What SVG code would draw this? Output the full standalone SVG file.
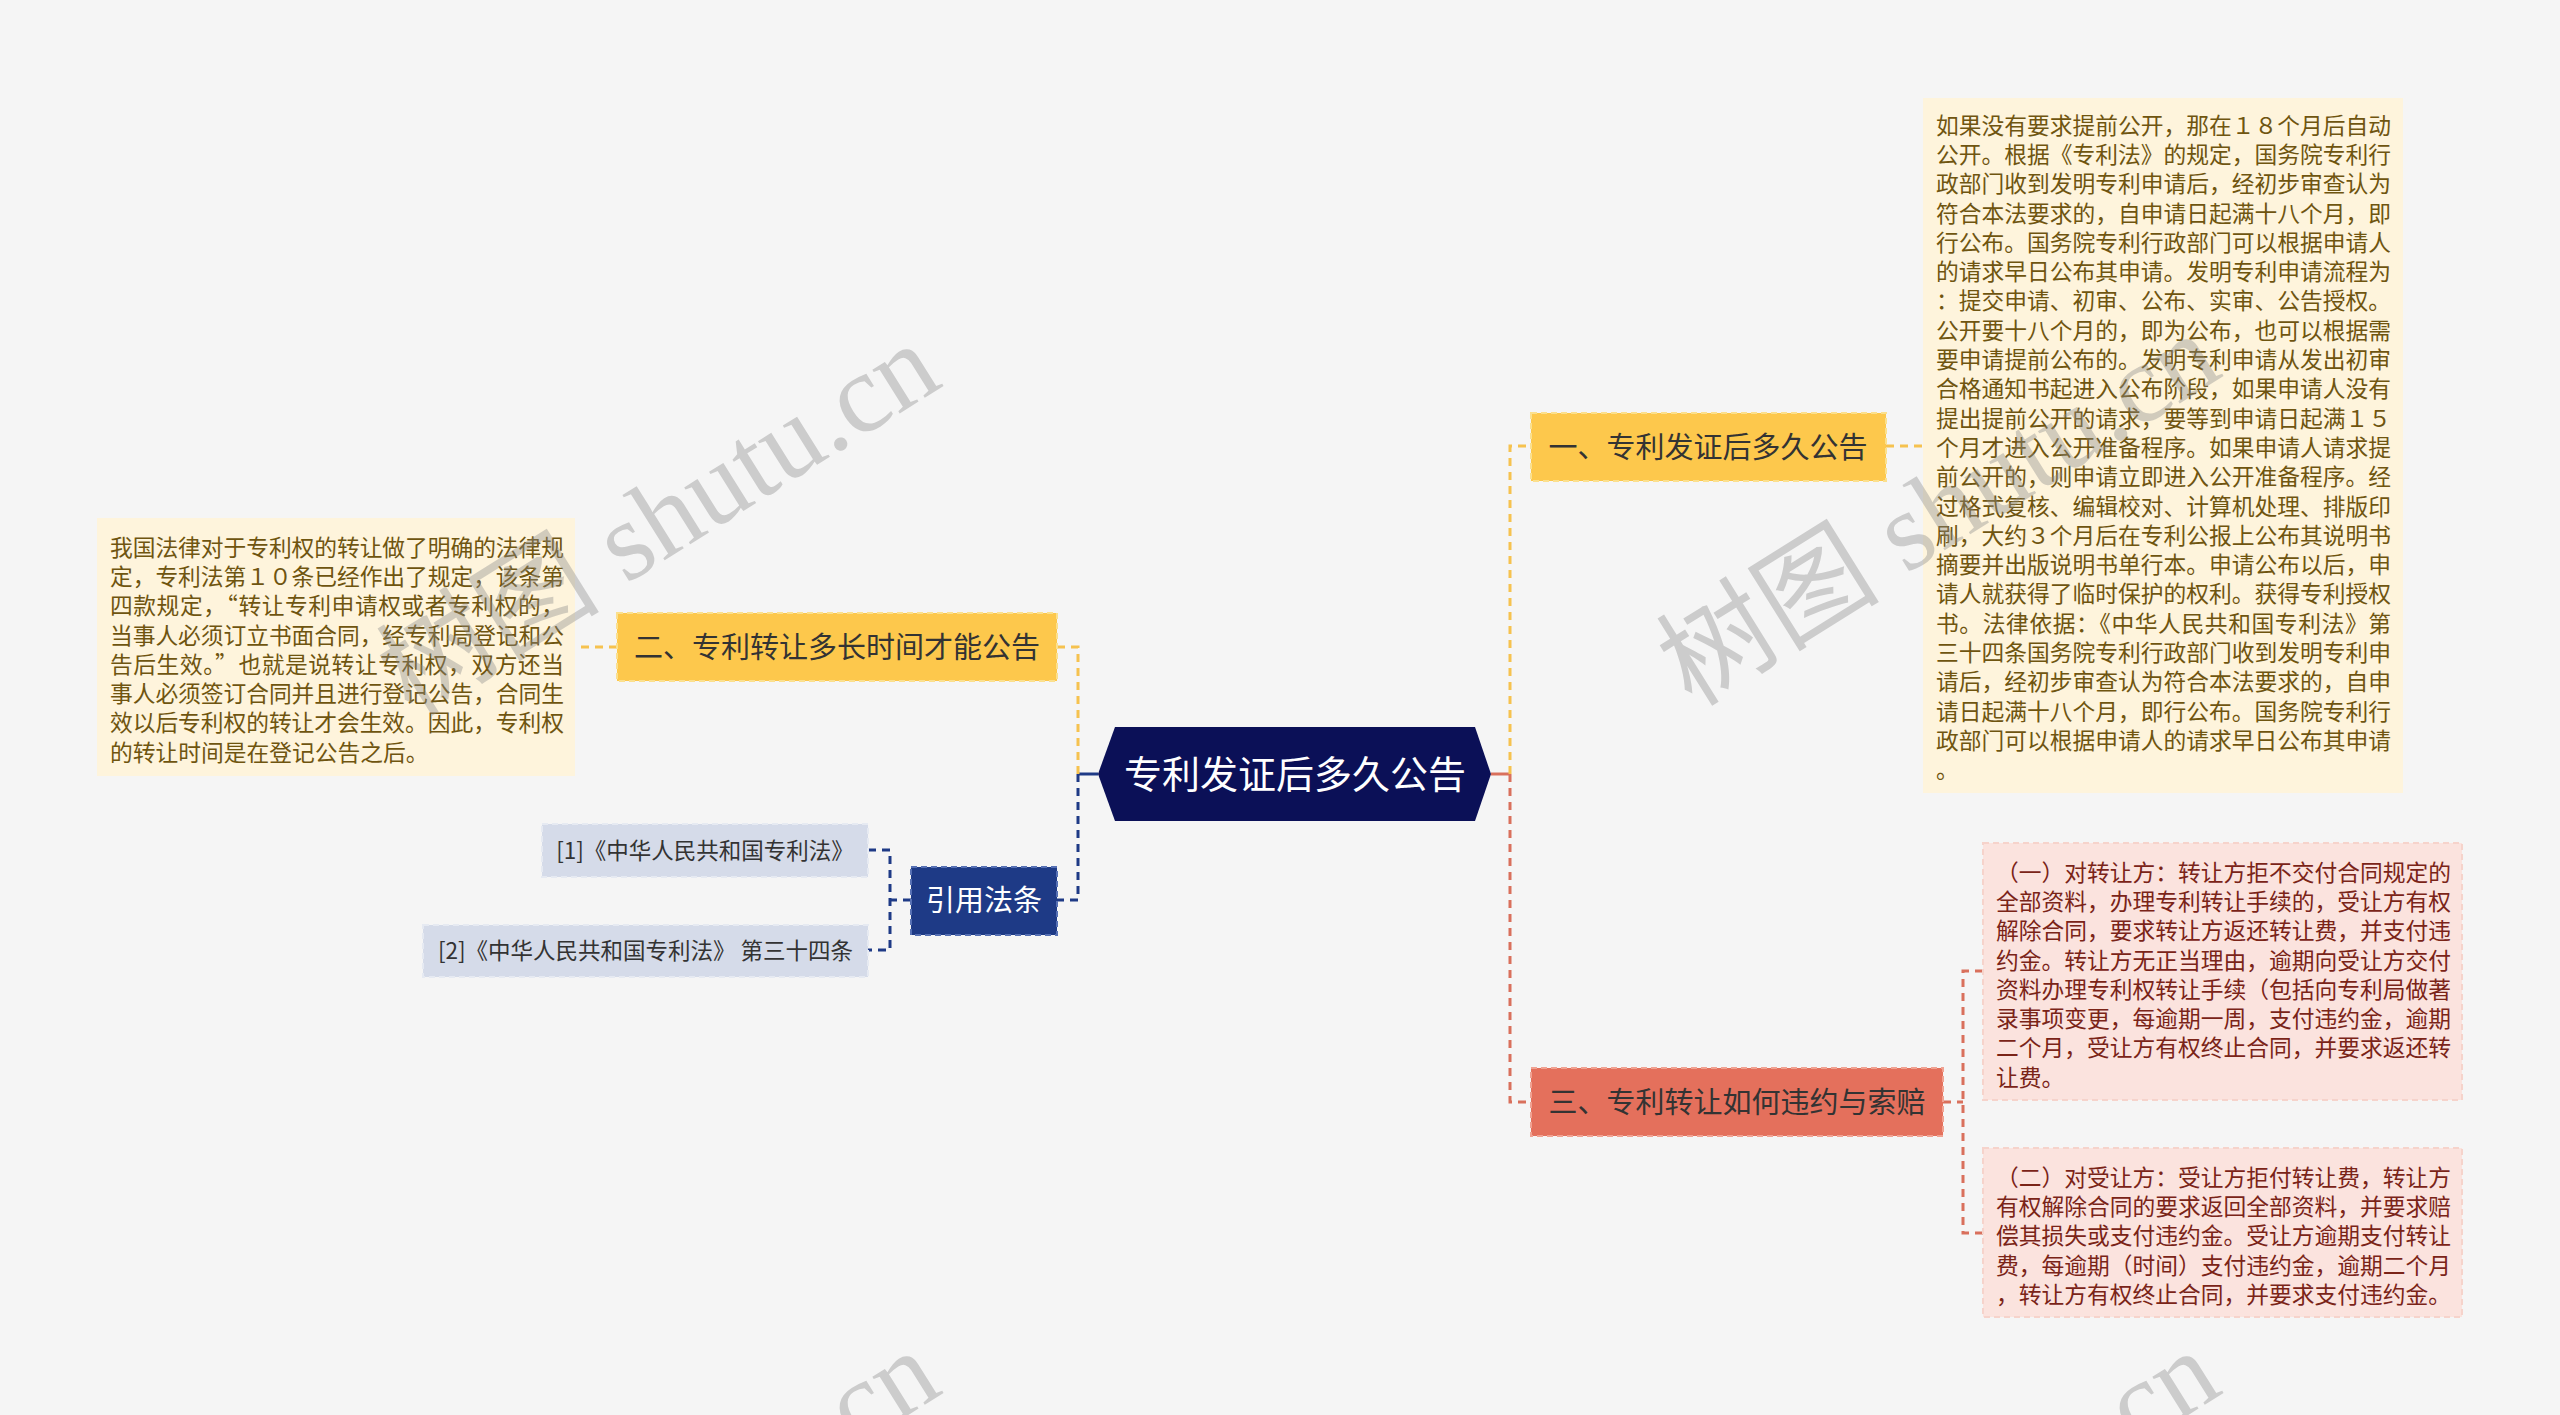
<svg xmlns="http://www.w3.org/2000/svg" width="2560" height="1415" viewBox="0 0 2560 1415">
<style>
.cjk{font-family:"Noto Sans CJK SC","Noto Sans",sans-serif}
.yel{fill:#fdc84c;stroke:#fbe08e;stroke-width:2;stroke-dasharray:6 4}
.red{fill:#e4705c;stroke:#f0a292;stroke-width:2;stroke-dasharray:6 4}
.navy{fill:#1e3a86;stroke:#5670b4;stroke-width:2;stroke-dasharray:6 4}
.lav{fill:#d5dbe9;stroke:#e6eaf2;stroke-width:2;stroke-dasharray:6 4}
.cream{fill:#fef4dc}
.pink{fill:#fbe3de;stroke:#f6d3cb;stroke-width:2;stroke-dasharray:6 4}
.nt{font-size:29px;fill:#333;text-anchor:middle}
.wt{font-size:29px;fill:#fff;text-anchor:middle}
.rt{font-size:22.5px;fill:#333;text-anchor:middle}
.ct{font-size:22.75px;fill:#6f5510}
.pt{font-size:22.75px;fill:#7a2418}
.dy{fill:none;stroke:#f6c24f;stroke-width:3;stroke-dasharray:8 6}
.dr{fill:none;stroke:#d9705c;stroke-width:3;stroke-dasharray:8 6}
.dn{fill:none;stroke:#1e3a86;stroke-width:3;stroke-dasharray:8 6}
.wm{font-family:"Liberation Serif","Noto Sans CJK SC",serif;font-size:112px;fill:#8a8a8a;opacity:0.38;text-anchor:end}
</style>
<rect x="0" y="0" width="2560" height="1415" fill="#f5f5f5"/>

<g id="connectors">
  <path d="M1491 774 H1510" fill="none" stroke="#d9705c" stroke-width="3"/>
  <path class="dy" d="M1510 774 V446 H1531"/>
  <path class="dr" d="M1510 774 V1102 H1531"/>
  <path class="dy" d="M1886 446 H1923"/>
  <path class="dr" d="M1943 1102 H1963"/>
  <path class="dr" d="M1983 971 H1963 V1233 H1983"/>
  <path d="M1078 774 H1098" fill="none" stroke="#1e3a86" stroke-width="3"/>
  <path class="dy" d="M1078 774 V647 H1057"/>
  <path class="dn" d="M1078 774 V900 H1057"/>
  <path class="dy" d="M617 647 H575"/>
  <path class="dn" d="M911 900 H890"/>
  <path class="dn" d="M868 850 H890 V950 H868"/>
</g>

<g id="root">
  <polygon points="1098,774 1115,727 1475,727 1491,774 1475,821 1115,821" fill="#0b1057"/>
  <text class="cjk" x="1295" y="788" font-size="38" fill="#fff" text-anchor="middle">专利发证后多久公告</text>
</g>

<g id="n1">
  <rect class="yel" x="1531" y="413" width="355" height="68"/>
  <text class="cjk nt" x="1708" y="457.5">一、专利发证后多久公告</text>
</g>

<g id="n1-detail">
  <rect class="cream" x="1923" y="98" width="480" height="695"/>
  <g class="cjk ct">
    <text x="1936" y="133.6" textLength="455" lengthAdjust="spacing">如果没有要求提前公开，那在１８个月后自动</text>
    <text x="1936" y="162.9" textLength="455" lengthAdjust="spacing">公开。根据《专利法》的规定，国务院专利行</text>
    <text x="1936" y="192.2" textLength="455" lengthAdjust="spacing">政部门收到发明专利申请后，经初步审查认为</text>
    <text x="1936" y="221.5" textLength="455" lengthAdjust="spacing">符合本法要求的，自申请日起满十八个月，即</text>
    <text x="1936" y="250.8" textLength="455" lengthAdjust="spacing">行公布。国务院专利行政部门可以根据申请人</text>
    <text x="1936" y="280.1" textLength="455" lengthAdjust="spacing">的请求早日公布其申请。发明专利申请流程为</text>
    <text x="1936" y="309.4" textLength="455" lengthAdjust="spacing">：提交申请、初审、公布、实审、公告授权。</text>
    <text x="1936" y="338.7" textLength="455" lengthAdjust="spacing">公开要十八个月的，即为公布，也可以根据需</text>
    <text x="1936" y="368.0" textLength="455" lengthAdjust="spacing">要申请提前公布的。发明专利申请从发出初审</text>
    <text x="1936" y="397.3" textLength="455" lengthAdjust="spacing">合格通知书起进入公布阶段，如果申请人没有</text>
    <text x="1936" y="426.6" textLength="455" lengthAdjust="spacing">提出提前公开的请求，要等到申请日起满１５</text>
    <text x="1936" y="455.9" textLength="455" lengthAdjust="spacing">个月才进入公开准备程序。如果申请人请求提</text>
    <text x="1936" y="485.2" textLength="455" lengthAdjust="spacing">前公开的，则申请立即进入公开准备程序。经</text>
    <text x="1936" y="514.5" textLength="455" lengthAdjust="spacing">过格式复核、编辑校对、计算机处理、排版印</text>
    <text x="1936" y="543.8" textLength="455" lengthAdjust="spacing">刷，大约３个月后在专利公报上公布其说明书</text>
    <text x="1936" y="573.1" textLength="455" lengthAdjust="spacing">摘要并出版说明书单行本。申请公布以后，申</text>
    <text x="1936" y="602.4" textLength="455" lengthAdjust="spacing">请人就获得了临时保护的权利。获得专利授权</text>
    <text x="1936" y="631.7" textLength="455" lengthAdjust="spacing">书。法律依据：《中华人民共和国专利法》第</text>
    <text x="1936" y="661.0" textLength="455" lengthAdjust="spacing">三十四条国务院专利行政部门收到发明专利申</text>
    <text x="1936" y="690.3" textLength="455" lengthAdjust="spacing">请后，经初步审查认为符合本法要求的，自申</text>
    <text x="1936" y="719.6" textLength="455" lengthAdjust="spacing">请日起满十八个月，即行公布。国务院专利行</text>
    <text x="1936" y="748.9" textLength="455" lengthAdjust="spacing">政部门可以根据申请人的请求早日公布其申请</text>
    <text x="1936" y="778.2">。</text>
  </g>
</g>

<g id="n3">
  <rect class="red" x="1531" y="1068" width="412" height="68"/>
  <text class="cjk nt" x="1737" y="1113">三、专利转让如何违约与索赔</text>
</g>

<g id="n3-detail-1">
  <rect class="pink" x="1983" y="843" width="479" height="257"/>
  <g class="cjk pt">
    <text x="1996" y="880.6" textLength="455" lengthAdjust="spacing">（一）对转让方：转让方拒不交付合同规定的</text>
    <text x="1996" y="909.9" textLength="455" lengthAdjust="spacing">全部资料，办理专利转让手续的，受让方有权</text>
    <text x="1996" y="939.2" textLength="455" lengthAdjust="spacing">解除合同，要求转让方返还转让费，并支付违</text>
    <text x="1996" y="968.5" textLength="455" lengthAdjust="spacing">约金。转让方无正当理由，逾期向受让方交付</text>
    <text x="1996" y="997.8" textLength="455" lengthAdjust="spacing">资料办理专利权转让手续（包括向专利局做著</text>
    <text x="1996" y="1027.1" textLength="455" lengthAdjust="spacing">录事项变更，每逾期一周，支付违约金，逾期</text>
    <text x="1996" y="1056.4" textLength="455" lengthAdjust="spacing">二个月，受让方有权终止合同，并要求返还转</text>
    <text x="1996" y="1085.7">让费。</text>
  </g>
</g>

<g id="n3-detail-2">
  <rect class="pink" x="1983" y="1148" width="479" height="169"/>
  <g class="cjk pt">
    <text x="1996" y="1185.6" textLength="455" lengthAdjust="spacing">（二）对受让方：受让方拒付转让费，转让方</text>
    <text x="1996" y="1214.9" textLength="455" lengthAdjust="spacing">有权解除合同的要求返回全部资料，并要求赔</text>
    <text x="1996" y="1244.2" textLength="455" lengthAdjust="spacing">偿其损失或支付违约金。受让方逾期支付转让</text>
    <text x="1996" y="1273.5" textLength="455" lengthAdjust="spacing">费，每逾期（时间）支付违约金，逾期二个月</text>
    <text x="1996" y="1302.8" textLength="455" lengthAdjust="spacing">，转让方有权终止合同，并要求支付违约金。</text>
  </g>
</g>

<g id="n2">
  <rect class="yel" x="617" y="613" width="440" height="68"/>
  <text class="cjk nt" x="837" y="658">二、专利转让多长时间才能公告</text>
</g>

<g id="n2-detail">
  <rect class="cream" x="97" y="518" width="478" height="258"/>
  <g class="cjk ct">
    <text x="110" y="555.6" textLength="454" lengthAdjust="spacing">我国法律对于专利权的转让做了明确的法律规</text>
    <text x="110" y="584.9" textLength="454" lengthAdjust="spacing">定，专利法第１０条已经作出了规定，该条第</text>
    <text x="110" y="614.2" textLength="454" lengthAdjust="spacing">四款规定，“转让专利申请权或者专利权的，</text>
    <text x="110" y="643.5" textLength="454" lengthAdjust="spacing">当事人必须订立书面合同，经专利局登记和公</text>
    <text x="110" y="672.8" textLength="454" lengthAdjust="spacing">告后生效。”也就是说转让专利权，双方还当</text>
    <text x="110" y="702.1" textLength="454" lengthAdjust="spacing">事人必须签订合同并且进行登记公告，合同生</text>
    <text x="110" y="731.4" textLength="454" lengthAdjust="spacing">效以后专利权的转让才会生效。因此，专利权</text>
    <text x="110" y="760.7">的转让时间是在登记公告之后。</text>
  </g>
</g>

<g id="n4">
  <rect class="navy" x="911" y="867" width="146" height="68"/>
  <text class="cjk wt" x="984" y="911">引用法条</text>
</g>

<g id="n4-ref1">
  <rect class="lav" x="542" y="824" width="326" height="53"/>
  <text class="cjk rt" x="705" y="858.5">[1]《中华人民共和国专利法》</text>
</g>

<g id="n4-ref2">
  <rect class="lav" x="423" y="925" width="445" height="52"/>
  <text class="cjk rt" x="645.5" y="958.5">[2]《中华人民共和国专利法》 第三十四条</text>
</g>

<g id="watermarks">
  <text class="wm" x="945" y="385" transform="rotate(-32 945 385)">树图 shutu.cn</text>
  <text class="wm" x="2225" y="375" transform="rotate(-32 2225 375)">树图 shutu.cn</text>
  <text class="wm" x="945" y="1392" transform="rotate(-32 945 1392)">树图 shutu.cn</text>
  <text class="wm" x="2225" y="1392" transform="rotate(-32 2225 1392)">树图 shutu.cn</text>
</g>
</svg>
